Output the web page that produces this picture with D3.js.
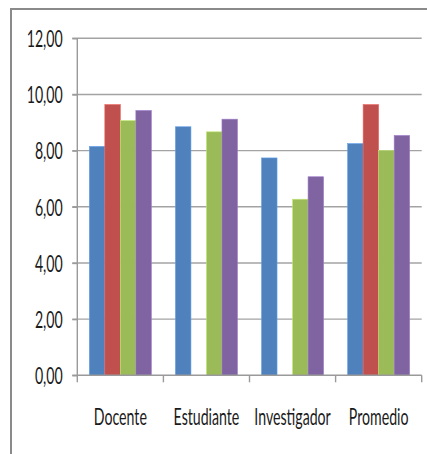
<!DOCTYPE html>
<html>
<head>
<meta charset="utf-8">
<script src="https://cdn.jsdelivr.net/npm/d3@7"></script>
<style>
  html, body { margin: 0; padding: 0; background: #fff; }
  svg { display: block; }
  text { font-family: Lato, "Open Sans", sans-serif; fill: #1a1a1a; }
</style>
</head>
<body>
<div id="chart"></div>
<script>
// Categories along the x axis
const categories = ["Docente", "Estudiante", "Investigador", "Promedio"];

// Four series per category (null = no bar)
const seriesNames = ["S1", "S2", "S3", "S4"];
const seriesColors = ["#4F81BD", "#C0504D", "#9BBB59", "#8064A2"];
const s1Values = [8.15, 8.85, 7.74, 8.25];
const s2Values = [9.64, null, null, 9.64];
const s3Values = [9.07, 8.67, 6.27, 8.00];
const s4Values = [9.43, 9.12, 7.07, 8.54];
const seriesValues = [s1Values, s2Values, s3Values, s4Values];

// Y axis ticks
const yTicks = [0, 2, 4, 6, 8, 10, 12];

const W = 427, H = 454;
const margin = { top: 38.3, right: 5.3, bottom: 78.7, left: 77.3 };
const innerW = W - margin.left - margin.right;
const innerH = H - margin.top - margin.bottom;
const textScaleX = 0.615;
const fontSize = 23;

const svg = d3.select("#chart").append("svg")
  .attr("width", W).attr("height", H);

// Outer chart frame (only its top and left edges fall within the view)
svg.append("path")
  .attr("d", `M11,${H} L11,9 L${W},9`)
  .attr("fill", "none")
  .attr("stroke", "#8a8a8a")
  .attr("stroke-width", 2);

const g = svg.append("g")
  .attr("transform", `translate(${margin.left},${margin.top})`);

const y = d3.scaleLinear().domain([0, 12]).range([innerH, 0]);
const x0 = d3.scaleBand().domain(categories).range([0, innerW]).padding(0);
const x1 = d3.scaleBand().domain(seriesNames).range([0, x0.bandwidth()])
  .paddingInner(0).paddingOuter(0.775);

// Horizontal gridlines
g.append("g").selectAll("line")
  .data(yTicks.filter(t => t > 0))
  .join("line")
  .attr("x1", -5).attr("x2", innerW)
  .attr("y1", d => y(d)).attr("y2", d => y(d))
  .attr("stroke", "#a3a3a3")
  .attr("stroke-width", 1.4);

// Bars
const groups = g.append("g").selectAll("g")
  .data(categories)
  .join("g")
  .attr("transform", d => `translate(${x0(d)},0)`);

groups.selectAll("rect")
  .data((c, ci) => seriesNames.map((s, si) => ({ s, si, v: seriesValues[si][ci] }))
    .filter(d => d.v !== null))
  .join("rect")
  .attr("x", d => x1(d.s))
  .attr("y", d => y(d.v))
  .attr("width", x1.bandwidth())
  .attr("height", d => y(0) - y(d.v))
  .attr("fill", d => seriesColors[d.si])
  .attr("stroke", d => d3.color(seriesColors[d.si]).brighter(0.6))
  .attr("stroke-width", 0.6);

// Y axis
const yAxis = g.append("g")
  .call(d3.axisLeft(y).tickValues(yTicks).tickSize(5).tickPadding(9)
    .tickFormat(d => d3.format(".2f")(d).replace(".", ",")));
yAxis.select(".domain").attr("stroke", "#9a9a9a").attr("stroke-width", 1.4)
  .attr("d", `M0,0V${innerH}`);
yAxis.selectAll(".tick line").attr("stroke", "#9a9a9a").attr("stroke-width", 1.4);
yAxis.selectAll(".tick text")
  .attr("font-size", fontSize)
  .attr("dy", "0.36em")
  .attr("x", null)
  .attr("transform", `translate(-14.6,0) scale(${textScaleX},1)`)
  .attr("text-anchor", "end");

// X axis
const xAxis = g.append("g")
  .attr("transform", `translate(0,${innerH})`)
  .call(d3.axisBottom(x0).tickSize(0).tickPadding(0));
xAxis.select(".domain").remove();
xAxis.append("line")
  .attr("x1", -5).attr("x2", innerW)
  .attr("stroke", "#9a9a9a").attr("stroke-width", 1.4);
xAxis.selectAll(".sep")
  .data(d3.range(categories.length + 1))
  .join("line")
  .attr("class", "sep")
  .attr("x1", i => i * x0.step()).attr("x2", i => i * x0.step())
  .attr("y1", 0).attr("y2", 7)
  .attr("stroke", "#9a9a9a").attr("stroke-width", 1.4);
xAxis.selectAll(".tick text")
  .attr("font-size", fontSize)
  .attr("y", null).attr("dy", null)
  .attr("transform", `translate(0,50) scale(${textScaleX},1)`)
  .attr("text-anchor", "middle");
</script>
</body>
</html>
